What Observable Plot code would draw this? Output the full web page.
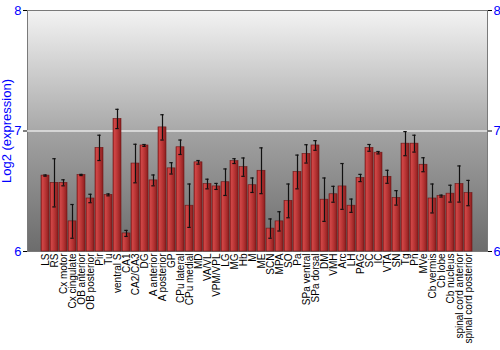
<!DOCTYPE html>
<html>
<head>
<meta charset="utf-8">
<script src="https://cdn.jsdelivr.net/npm/d3@7"></script>
<script src="https://cdn.jsdelivr.net/npm/@observablehq/plot@0.6"></script>
<style>
  html, body { margin: 0; padding: 0; background: #fff; }
  #chart svg { display: block; }
</style>
</head>
<body>
<div id="chart"></div>
<script>
const regions = ["LS","RS","Cx motor","Cx cingulate","OB anterior","OB posterior","Pir","Tu","ventral S","CA1","CA2/CA3","DG","A anterior","A posterior","GP","CPu lateral","CPu medial","MD","VA/VL","VPM/VPL","LG","MG","Hb","M","ME","SCN","MPA","SO","Pa","SPa ventral","SPa dorsal","DM","VMH","Arc","LH","PAG","SC","IC","VTA","SN","Tg","Pn","MVe","Cb vermis","Cb lobe","Cb nucleus","spinal cord anterior","spinal cord posterior"];
const expression = [6.63,6.57,6.57,6.25,6.635,6.44,6.86,6.47,7.10,6.15,6.73,6.88,6.59,7.03,6.69,6.865,6.38,6.74,6.56,6.54,6.575,6.75,6.70,6.55,6.67,6.19,6.25,6.42,6.66,6.81,6.88,6.43,6.475,6.54,6.38,6.61,6.86,6.82,6.62,6.445,6.895,6.895,6.72,6.44,6.46,6.48,6.56,6.485];
const errors = [0.005,0.2,0.025,0.14,0.005,0.035,0.105,0.008,0.08,0.025,0.16,0.008,0.045,0.105,0.047,0.06,0.18,0.015,0.04,0.025,0.11,0.02,0.076,0.06,0.19,0.08,0.08,0.14,0.14,0.076,0.04,0.18,0.066,0.19,0.055,0.03,0.028,0.01,0.054,0.06,0.1,0.07,0.058,0.12,0.008,0.07,0.15,0.105];
const yTicks = [6, 7, 8];

const data = regions.map((r, i) => ({region: r, value: expression[i], err: errors[i]}));

const font = "Liberation Sans, Arial, sans-serif";

const plot = Plot.plot({
  width: 500,
  height: 350,
  marginLeft: 27,
  marginRight: 13,
  marginTop: 10,
  marginBottom: 99,
  style: {fontFamily: font, background: "#fff"},
  x: {domain: regions, padding: 0.1, label: null, axis: null},
  y: {domain: [6, 8], label: null},
  marks: [
    Plot.frame({fill: "url(#bgGrad)", stroke: "#7a7a7a"}),
    Plot.ruleY([7], {stroke: "#e6e6e6", strokeWidth: 1.6}),
    Plot.barY(data, {x: "region", y1: 6, y2: "value", fill: "url(#barGrad)", stroke: "#6e1616", strokeWidth: 0.6}),
    Plot.ruleX(data, {x: "region", y1: d => d.value - d.err, y2: d => d.value + d.err, stroke: "#111", strokeWidth: 1.2}),
    Plot.tickY(data, {x: "region", y: d => d.value - d.err, stroke: "#111", strokeWidth: 1.2, insetLeft: 2.3, insetRight: 2.3}),
    Plot.tickY(data, {x: "region", y: d => d.value + d.err, stroke: "#111", strokeWidth: 1.2, insetLeft: 2.3, insetRight: 2.3}),
    Plot.axisY({anchor: "left", ticks: yTicks, tickFormat: d3.format("d"), tickSize: 4, tickPadding: 2, stroke: "#000", fill: "#0000ff", fontSize: 13, label: "Log2 (expression)", labelAnchor: "center", labelArrow: "none", labelOffset: 26}),
    Plot.axisY({anchor: "right", ticks: yTicks, tickFormat: d3.format("d"), tickSize: 4, tickPadding: 2, stroke: "#000", fill: "#0000ff", fontSize: 13, label: null}),
    Plot.text(regions, {x: d => d, frameAnchor: "bottom", rotate: -90, textAnchor: "end", lineAnchor: "middle", dy: 2, fontSize: 10, fill: "#000"})
  ]
});

const defs = d3.select(plot).insert("defs", ":first-child");
const bg = defs.append("linearGradient").attr("id", "bgGrad").attr("x1", 0).attr("y1", 0).attr("x2", 0).attr("y2", 1);
bg.append("stop").attr("offset", "0%").attr("stop-color", "#f3f3f3");
bg.append("stop").attr("offset", "49.5%").attr("stop-color", "#a9a9a9");
bg.append("stop").attr("offset", "50.5%").attr("stop-color", "#a2a2a2");
bg.append("stop").attr("offset", "100%").attr("stop-color", "#6c6c6c");
const bar = defs.append("linearGradient").attr("id", "barGrad").attr("x1", 0).attr("y1", 0).attr("x2", 1).attr("y2", 0);
bar.append("stop").attr("offset", "0%").attr("stop-color", "#a52a2a");
bar.append("stop").attr("offset", "20%").attr("stop-color", "#d04646");
bar.append("stop").attr("offset", "60%").attr("stop-color", "#b43232");
bar.append("stop").attr("offset", "100%").attr("stop-color", "#8a1e1e");

document.getElementById("chart").appendChild(plot);
</script>
</body>
</html>
